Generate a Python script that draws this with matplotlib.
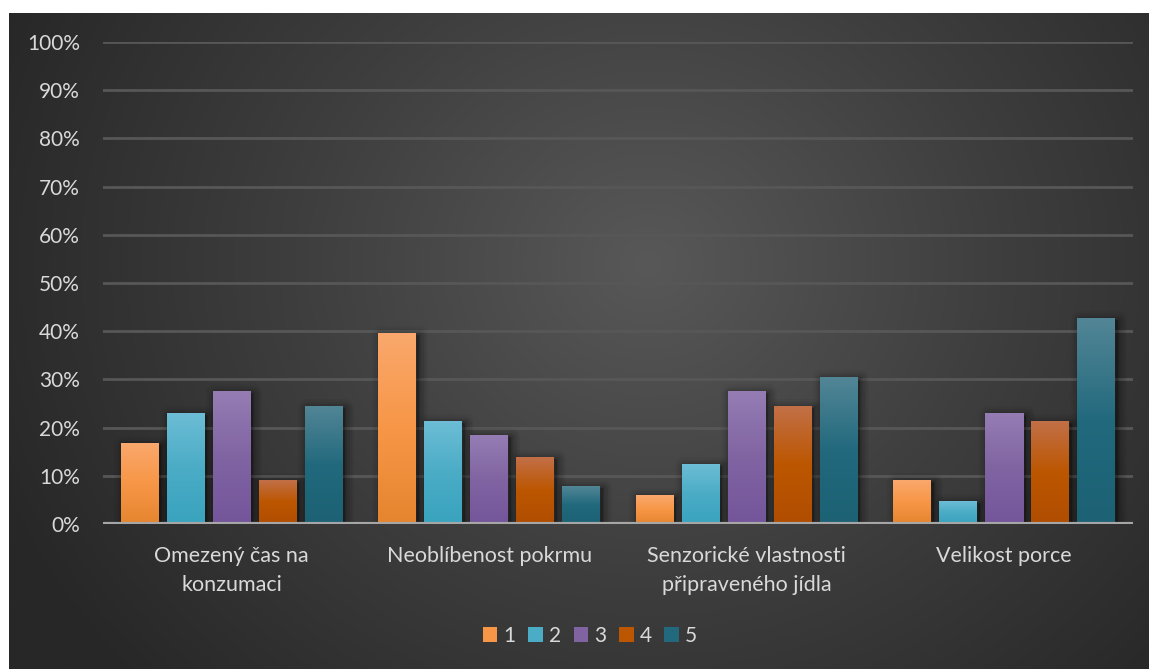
import numpy as np
import matplotlib.pyplot as plt
from matplotlib.colors import LinearSegmentedColormap
from matplotlib.patches import Rectangle, Patch
from matplotlib.ticker import FuncFormatter
import matplotlib.transforms as mtransforms

# ---- data -------------------------------------------------------------
categories = [
    "Omezený čas na\nkonzumaci",
    "Neoblíbenost pokrmu",
    "Senzorické vlastnosti\npřipraveného jídla",
    "Velikost porce",
]
series_labels = ["1", "2", "3", "4", "5"]
s1 = [16.8, 39.5, 6.0, 9.1]
s2 = [22.9, 21.2, 12.3, 4.6]
s3 = [27.4, 18.3, 27.4, 22.9]
s4 = [9.1, 13.7, 24.3, 21.2]
s5 = [24.3, 7.7, 30.4, 42.6]
series = [s1, s2, s3, s4, s5]
yticks = [0, 10, 20, 30, 40, 50, 60, 70, 80, 90, 100]

# ---- style ------------------------------------------------------------
# (top, middle, bottom) gradient stops for each series
grad_colors = [
    ("#FAA86D", "#F79646", "#E6852F"),
    ("#6CBDD5", "#4BACC6", "#39A3BE"),
    ("#957DB4", "#8064A2", "#74559B"),
    ("#C27048", "#BC5600", "#B04D00"),
    ("#528696", "#22697D", "#1C6174"),
]
text_color = "#D9D9D9"
font = ["Lato", "DejaVu Sans"]
plt.rcParams["font.family"] = font

W, H = 1149, 669
fig = plt.figure(figsize=(W / 100, H / 100), dpi=100, facecolor="white")

# dark radial-gradient chart background
bg = fig.add_axes([9 / W, 0, 1 - 9 / W, (H - 13) / H])
bg.set_axis_off()
ny, nx = 300, 520
yy, xx = np.mgrid[0:ny, 0:nx]
cx, cy = nx * 0.56, ny * 0.38
r = np.sqrt(((xx - cx) / (nx * 0.62)) ** 2 + ((yy - cy) / (ny * 0.95)) ** 2)
r = np.clip(r, 0, 1)
bg_cmap = LinearSegmentedColormap.from_list("bg", ["#585858", "#3E3E3E", "#272727"])
bg.imshow(r, cmap=bg_cmap, aspect="auto", extent=[0, 1, 0, 1], origin="upper",
          interpolation="bicubic", vmin=0, vmax=1)
bg.set_xlim(0, 1)
bg.set_ylim(0, 1)

ax = fig.add_axes([103 / W, (H - 524) / H, (1133 - 103) / W, (524 - 42) / H])
ax.patch.set_alpha(0)

n_series = len(series)
x = np.arange(len(categories))
width = 38 / 257.5
pitch = 46 / 257.5

ax.set_xlim(-0.5, len(categories) - 0.5)
ax.set_ylim(0, 100)

# gridlines
for t in yticks[1:]:
    ax.axhline(t, color="#575757", lw=2.0, zorder=1)

for i, vals in enumerate(series):
    offs = (i - (n_series - 1) / 2) * pitch
    bars = ax.bar(x + offs, vals, width=width, color=grad_colors[i][1],
                  zorder=3, linewidth=0, label=series_labels[i])
    cmap = LinearSegmentedColormap.from_list(f"g{i}", list(grad_colors[i][::-1]))
    grad = np.linspace(0, 1, 256).reshape(-1, 1)
    for b in bars:
        x0, y0 = b.get_x(), b.get_y()
        w, h = b.get_width(), b.get_height()
        # soft drop shadow
        for k, a in enumerate([0.10, 0.08, 0.06, 0.04]):
            grow = (k + 1) * 1.6
            tr = mtransforms.offset_copy(ax.transData, fig=fig, x=2.5, y=-1.5, units="dots")
            sh = Rectangle((x0, y0), w, h, transform=tr, facecolor="black",
                           alpha=a, linewidth=grow * 2, edgecolor="black",
                           zorder=2, joinstyle="round")
            ax.add_patch(sh)
        ax.imshow(grad, cmap=cmap, aspect="auto", origin="lower",
                  extent=[x0, x0 + w, y0, y0 + h], zorder=4, interpolation="bilinear")

ax.set_xlim(-0.5, len(categories) - 0.5)
ax.set_ylim(0, 100)

# baseline
ax.axhline(0, color="#A6A6A6", lw=3, zorder=5)

for s in ax.spines.values():
    s.set_visible(False)
ax.set_yticks(yticks)
ax.yaxis.set_major_formatter(FuncFormatter(lambda v, p: f"{v:.0f}%"))
ax.tick_params(axis="y", length=0, pad=16.5, labelsize=15, labelcolor=text_color)
ax.set_xticks(x)
ax.set_xticklabels(categories, fontsize=15.5, color=text_color, linespacing=1.55)
ax.tick_params(axis="x", length=0, pad=16)

handles = [Patch(facecolor=grad_colors[i][1], label=series_labels[i]) for i in range(n_series)]
leg = fig.legend(handles=handles, loc="center", bbox_to_anchor=(590 / W, (H - 636) / H),
                 ncol=5, frameon=False, fontsize=15, handlelength=0.7, handleheight=0.7,
                 handletextpad=0.3, columnspacing=0.6, labelcolor=text_color)

fig.savefig("out.png", dpi=100, facecolor="white")
